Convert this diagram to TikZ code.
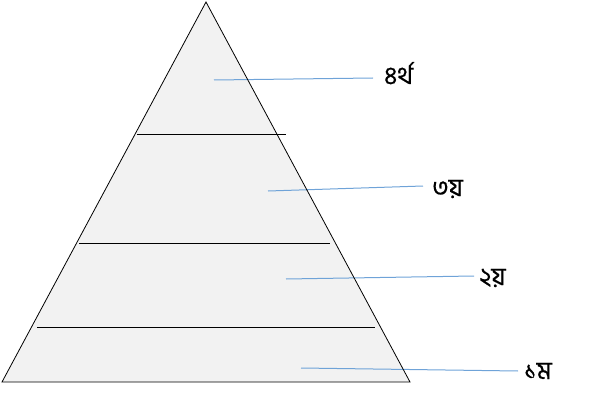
\documentclass[tikz,border=0pt]{standalone}
\usepackage{fontspec}
\newfontfamily\bnfont[Script=Bengali,FakeBold=0.6]{Hind Siliguri}
\definecolor{pyrfill}{HTML}{F2F2F2}
\definecolor{leader}{HTML}{6FA3D8}
\tikzset{
  tier/.style={draw=black, line width=0.9pt},
  leaderline/.style={draw=leader, line width=1pt},
  lbl/.style={anchor=base west, inner sep=0pt, font=\bnfont\fontsize{25}{28}\selectfont}
}
\begin{document}
\begin{tikzpicture}[x=1pt,y=-1pt]
\useasboundingbox (0,0) rectangle (605,401);
\coordinate (apex) at (206,2);
\coordinate (bl) at (2,382);
\coordinate (br) at (410,382);
\fill[pyrfill] (apex) -- (br) -- (bl) -- cycle;
% tier lines
\draw[tier] (137,134) -- (286,134);
\draw[tier] (79,243) -- (330,243);
\draw[tier] (37,327) -- (375,327);
% labels
\node[lbl] (l4) at (384,84) {৪র্থ};
\node[lbl] (l3) at (432,196) {৩য়};
\node[lbl] (l2) at (479,285) {২য়};
\node[lbl] (l1) at (524,379) {১ম};
% leader lines
\coordinate (p4) at (214,80);
\coordinate (p3) at (268,191);
\coordinate (p2) at (286,279);
\coordinate (p1) at (301,368);
\coordinate (e4) at (373,78);
\coordinate (e3) at (423,186);
\coordinate (e2) at (474,276);
\coordinate (e1) at (518,371);
\draw[leaderline] (p4) -- (e4);
\draw[leaderline] (p3) -- (e3);
\draw[leaderline] (p2) -- (e2);
\draw[leaderline] (p1) -- (e1);
\draw[black, line width=0.8pt, line join=miter] (apex) -- (br) -- (bl) -- cycle;
\end{tikzpicture}
\end{document}
